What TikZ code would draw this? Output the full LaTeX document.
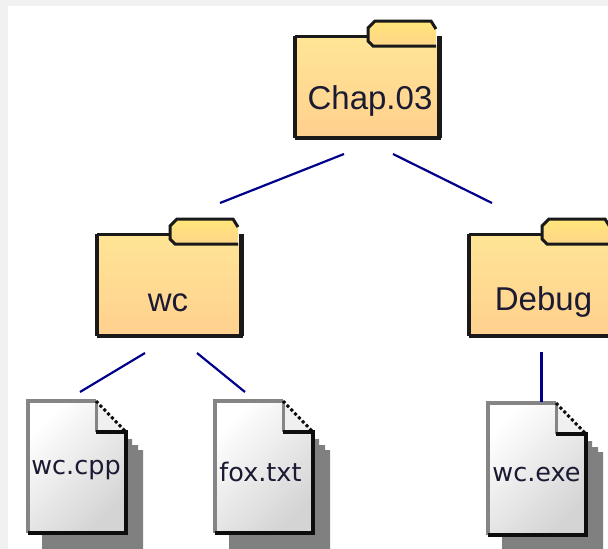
\documentclass[tikz,border=0pt]{standalone}
\usepackage{fontspec}
\setmainfont{Liberation Sans}
\newfontfamily\filefont{DejaVu Sans}
\definecolor{edgeblue}{HTML}{00008B}
\definecolor{pagegrey}{HTML}{F1F1F1}
\definecolor{foldertop}{HTML}{FFE596}
\definecolor{folderbot}{HTML}{FFD08E}
\definecolor{tabtop}{HTML}{FFE679}
\definecolor{tabbot}{HTML}{FFD58A}
\definecolor{inktext}{HTML}{1A1A33}
\tikzset{
  link/.style={draw=edgeblue,line width=2.2pt},
  folderbody/.style={inner sep=0pt,text=inktext,font=\fontsize{33}{36}\selectfont},
  fileface/.style={inner sep=0pt,font=\filefont\fontsize{25.5}{30}\selectfont,text=inktext},
  heavy/.style={draw=black!90},
}
% #1 name, #2 left, #3 top of body, #4 label, #5 label centre
\newcommand{\folderat}[5]{%
  \begin{scope}[shift={(#2,#3)}]
    \shade[top color=foldertop,bottom color=folderbot] (0,0) -- (74,0) -- (74,10) -- (144,10) -- (144,102) -- (0,102) -- cycle;
    \draw[heavy,line width=4.5pt] (0,0) -- (0,102);
    \draw[heavy,line width=3pt] (0,0) -- (74,0);
    \draw[heavy,line width=5pt] (144,0) -- (144,102);
    \draw[heavy,line width=4pt] (0,102) -- (146,102);
    \shade[top color=tabtop,bottom color=tabbot] (73,-8) -- (80,-15) -- (136,-15) -- (141,-7) -- (141,10) -- (78,10) -- (73,5) -- cycle;
    \draw[heavy,line width=3pt] (141,10) -- (78,10) -- (73,5) -- (73,-8) -- (80,-15) -- (136,-15) -- (141,-7);
    \node[folderbody] (#1) at (#5) {#4};
  \end{scope}}
% #1 name, #2 left, #3 top, #4 label, #5 label centre
\newcommand{\fileat}[5]{%
  \begin{scope}[shift={(#2,#3)}]
    \fill[black!50] (14,38) -- (104,38) -- (104,44) -- (110,44) -- (110,49) -- (115,49) -- (115,148) -- (14,148) -- cycle;
    \shade[left color=white,right color=black!17,shading angle=45] (0,0) -- (68,0) -- (98,30) -- (98,132) -- (0,132) -- cycle;
    \fill[black!6] (68,0) -- (98,30) -- (68,31) -- cycle;
    \draw[line width=3.5pt,black!48] (0,132) -- (0,0) -- (68,0);
    \draw[line width=3pt,black!48] (68,0) -- (68,31);
    \draw[line width=3.5pt,black!95] (68,31) -- (98,31) -- (98,132) -- (0,132);
    \draw[line width=3pt,black!95,dash pattern=on 3pt off 2.5pt] (68,0) -- (97,30);
    \node[fileface] (#1) at (#5) {#4};
  \end{scope}}
\begin{document}
\begin{tikzpicture}[x=1pt,y=-1pt]
  \useasboundingbox (0,0) rectangle (608,549);
  \fill[pagegrey] (0,0) rectangle (608,549);
  \fill[white] (8,6) rectangle (608,549);
  \folderat{chap}{295}{36}{Chap.03}{75,64.5}
  \folderat{wc}{97}{234}{wc}{71,68.5}
  \folderat{debug}{469}{234}{Debug}{74.5,68}
  \fileat{cpp}{28}{401}{wc.cpp}{48,69}
  \fileat{txt}{215}{401}{fox.txt}{45.5,71}
  \fileat{exe}{488}{403}{wc.exe}{48.5,72}
  \coordinate (a1) at (344,154); \coordinate (a2) at (220,203);
  \coordinate (b1) at (393,154); \coordinate (b2) at (492,203);
  \coordinate (c1) at (145,353); \coordinate (c2) at (80,392);
  \coordinate (d1) at (197,353); \coordinate (d2) at (245,392);
  \coordinate (e1) at (541,352); \coordinate (e2) at (541,402);
  \draw[link] (a1) -- (a2);
  \draw[link] (b1) -- (b2);
  \draw[link] (c1) -- (c2);
  \draw[link] (d1) -- (d2);
  \draw[link,line width=3pt] (e1) -- (e2);
\end{tikzpicture}
\end{document}
